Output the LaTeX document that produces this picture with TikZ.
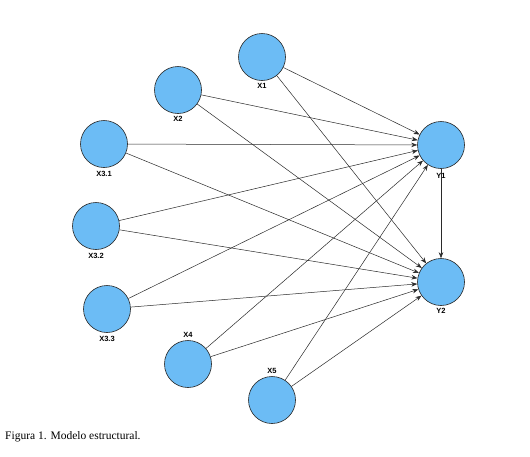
\documentclass[tikz,border=0pt]{standalone}
\usepackage{fontspec}
\setmainfont{Liberation Serif}
\newfontfamily\lblfont{Liberation Sans}
\usetikzlibrary{arrows.meta}
\definecolor{nodeblue}{HTML}{6CBCF5}
\definecolor{edgegray}{HTML}{2A2A2A}
\tikzset{
  latent/.style={circle,draw=black!85,line width=0.6pt,fill=nodeblue,minimum size=47pt,inner sep=0pt},
  lbl/.style={font=\lblfont\bfseries\fontsize{7.5}{8}\selectfont,inner sep=0pt},
  path/.style={draw=edgegray,line width=0.5pt,-{Stealth[length=6pt,width=4.5pt]}}
}
\begin{document}
\begin{tikzpicture}[x=1pt,y=-1pt]
\useasboundingbox[fill=white] (0,0) rectangle (530,456);
\node[latent] (X1) at (262,57) {};
\node[latent] (X2) at (178,90) {};
\node[latent] (X31) at (104,144) {};
\node[latent] (X32) at (96,226) {};
\node[latent] (X33) at (107,309) {};
\node[latent] (X4) at (188,364) {};
\node[latent] (X5) at (272,400) {};
\node[latent] (Y1) at (441,145) {};
\node[latent] (Y2) at (441,282) {};
\node[lbl] (lX1) at (262,86) {X1};
\node[lbl] (lX2) at (178,119) {X2};
\node[lbl] (lX31) at (104,174) {X3.1};
\node[lbl] (lX32) at (96,256) {X3.2};
\node[lbl] (lX33) at (107,339) {X3.3};
\node[lbl] (lX4) at (188,335) {X4};
\node[lbl] (lX5) at (272,371) {X5};
\node[lbl] (lY1) at (441,176) {Y1};
\node[lbl] (lY2) at (441,311) {Y2};
\foreach \s in {X1,X2,X31,X32,X33,X4,X5}{
  \draw[path] (\s) -- (Y1);
  \draw[path] (\s) -- (Y2);
}
\draw[path] (Y1) -- (Y2);
\node[anchor=west,inner sep=0pt,font=\fontsize{11.5}{13}\selectfont] (cap) at (5,437) {Figura 1. Modelo estructural.};
\end{tikzpicture}
\end{document}
